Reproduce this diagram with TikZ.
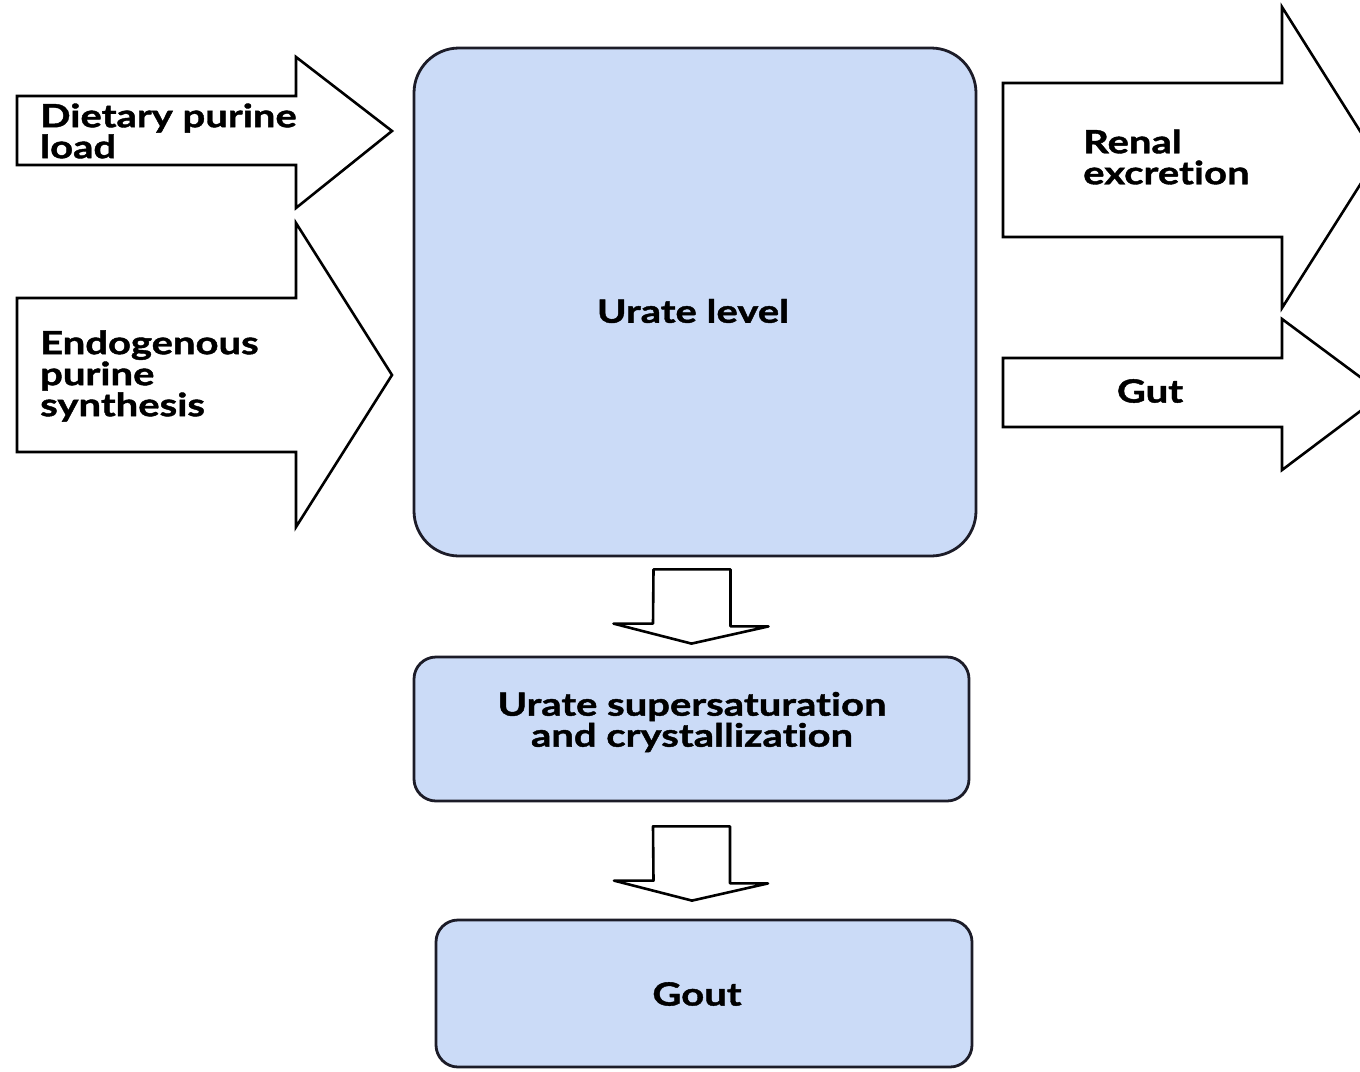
\documentclass[tikz,border=0pt]{standalone}
\usepackage{fontspec}
\setmainfont{Lato}[Ligatures=NoCommon, BoldFeatures={FakeStretch=1.25, FakeBold=1.3}]
\usetikzlibrary{calc}
\definecolor{boxfill}{RGB}{203,219,247}
\definecolor{boxline}{RGB}{28,28,40}
\begin{document}
\begin{tikzpicture}[x=1pt,y=-1pt,
  blk/.style={draw=black, line width=2.6pt, fill=white, line join=miter},
  dblk/.style={blk, line join=round},
  box/.style={draw=boxline, line width=2.8pt, fill=boxfill, rounded corners=#1, inner sep=0pt},
  lbl/.style={font=\bfseries\fontsize{32}{31}\selectfont, inner sep=0pt, text=black},
]
\useasboundingbox (0,0) rectangle (1360,1071);
\clip (0,0) rectangle (1360,1071);
\fill[white] (0,0) rectangle (1360,1071);

% boxes
\node[box=45pt, minimum width=562pt, minimum height=508pt] (urate) at (695,302) {};
\node[box=22pt, minimum width=555pt, minimum height=144pt] (sup) at (691.5,729) {};
\node[box=22pt, minimum width=536pt, minimum height=147pt] (gout) at (704,993.5) {};

% input arrows
\draw[blk] (17,96) -- (296,96) -- (296,57) -- (392,131) -- (296,208) -- (296,165) -- (17,165) -- cycle;
\draw[blk] (17,298) -- (296,298) -- (296,223) -- (392,375) -- (296,527) -- (296,452) -- (17,452) -- cycle;

% output arrows
\draw[blk] (1003,83) -- (1282,83) -- (1282,7) -- (1377,158) -- (1282,308) -- (1282,237) -- (1003,237) -- cycle;
\draw[blk] (1003,358) -- (1282,358) -- (1282,319) -- (1383,394) -- (1282,470) -- (1282,427) -- (1003,427) -- cycle;

% down arrows between boxes
\coordinate (d1) at ($(urate.south)+(-3,12)$);
\coordinate (d1t) at ($(sup.north)+(0,-12)$);
\draw[dblk] (d1) ++(-38.5,0) -- ++(77,0) -- ++(0,57) -- ++(38,0) -- (d1t) -- ++(-78,-20) -- ++(39.5,0) -- cycle;
\coordinate (d2) at ($(sup.south)+(0,24)$);
\coordinate (d2t) at ($(gout.north)+(-12,-18)$);
\draw[dblk] (d2) ++(-38.5,0) -- ++(77,0) -- ++(0,57) -- ++(38,0) -- (d2t) -- ++(-78,-20) -- ++(39.5,0) -- cycle;

% labels
\node[lbl, anchor=west, align=left] (dietl) at (40,131) {Dietary purine\\load};
\node[lbl, anchor=west, align=left] (endol) at (40,376) {Endogenous\\purine\\synthesis};
\node[lbl, anchor=west, align=left] (renall) at (1083,157) {Renal\\excretion};
\node[lbl] (gutl) at (1150,391) {Gut};
\node[lbl] (uratel) at (693,311) {Urate level};
\node[lbl, align=center] (supl) at (692,722) {Urate supersaturation\\and crystallization};
\node[lbl] (goutl) at (697,994) {Gout};
\end{tikzpicture}
\end{document}
